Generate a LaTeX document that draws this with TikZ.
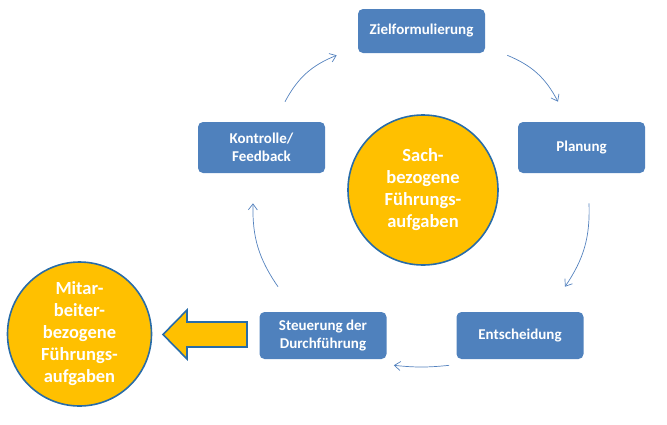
\documentclass[tikz,border=0pt]{standalone}
\usepackage{fontspec}
\setmainfont{Carlito}[BoldFont=Carlito Bold]
\usepackage{tikz}
\usetikzlibrary{arrows.meta}

\definecolor{boxblue}{RGB}{79,129,189}
\definecolor{ringblue}{RGB}{40,108,168}
\definecolor{goldfill}{RGB}{255,192,0}
\definecolor{linkblue}{RGB}{84,130,190}

\begin{document}
\begin{tikzpicture}[x=1pt,y=1pt,>={Straight Barb[length=6pt,width=9pt]},semithick]
\tikzstyle{task}=[rectangle,rounded corners=5pt,fill=boxblue,text=white,font=\bfseries\fontsize{15}{17.5}\selectfont,align=center,inner sep=0pt,minimum width=127pt]
\tikzstyle{goal}=[circle,fill=goldfill,draw=ringblue,line width=1.6pt,text=white,font=\bfseries\fontsize{18.5}{22}\selectfont,align=center,inner sep=0pt,minimum size=144pt]
\tikzstyle{flow}=[->,draw=linkblue,line width=0.7pt]
\useasboundingbox (0,0) rectangle (667,-424);

\node[task,minimum height=44pt] (ziel) at (421.5,-31) {Zielformulierung};
\node[task,minimum height=51pt] (plan) at (581.5,-147.5) {Planung};
\node[task,minimum height=47pt] (ents) at (520,-335.5) {Entscheidung};
\node[task,minimum height=47pt] (steu) at (323,-335.5) {Steuerung der\\Durchführung};
\node[task,minimum height=51pt] (kont) at (261.5,-147.5) {Kontrolle/\\Feedback};

\node[goal,minimum size=150pt] (sach) at (423,-190) {Sach-\\bezogene\\Führungs-\\aufgaben};
\node[goal] (mita) at (79.5,-334) {Mitar-\\beiter-\\bezogene\\Führungs-\\aufgaben};

% ends of the thin arrows
\coordinate (k1) at ([shift={(23.5,20)}]kont.north);
\coordinate (z1) at ([shift={(-21,-2)}]ziel.south west);
\coordinate (z2) at ([shift={(22,-2)}]ziel.south east);
\coordinate (p1) at ([shift={(-23.5,20)}]plan.north);
\coordinate (p2) at ([shift={(7.5,-30)}]plan.south);
\coordinate (e1) at ([shift={(45,25)}]ents.north);
\coordinate (e2) at ([shift={(-7,-6)}]ents.south west);
\coordinate (s1) at ([shift={(7,-6)}]steu.south east);
\coordinate (s2) at ([shift={(-45,25)}]steu.north);
\coordinate (k2) at ([shift={(-8.5,-30)}]kont.south);

\path (k1) edge[flow,bend left=20] (z1)
      (z2) edge[flow,bend left=20] (p1)
      (p2) edge[flow,bend left=18] (e1)
      (e2) edge[flow,bend left=6] (s1)
      (s2) edge[flow,bend left=18] (k2);

% big arrow towards the left circle
\coordinate (tip) at (163,-334.5);
\filldraw[fill=goldfill,draw=ringblue,line width=1.6pt]
  (tip) -- ++(24,24.5) -- ++(0,-12) -- ++(60,0) -- ++(0,-25) -- ++(-60,0) -- ++(0,-12) -- cycle;
\end{tikzpicture}
\end{document}
